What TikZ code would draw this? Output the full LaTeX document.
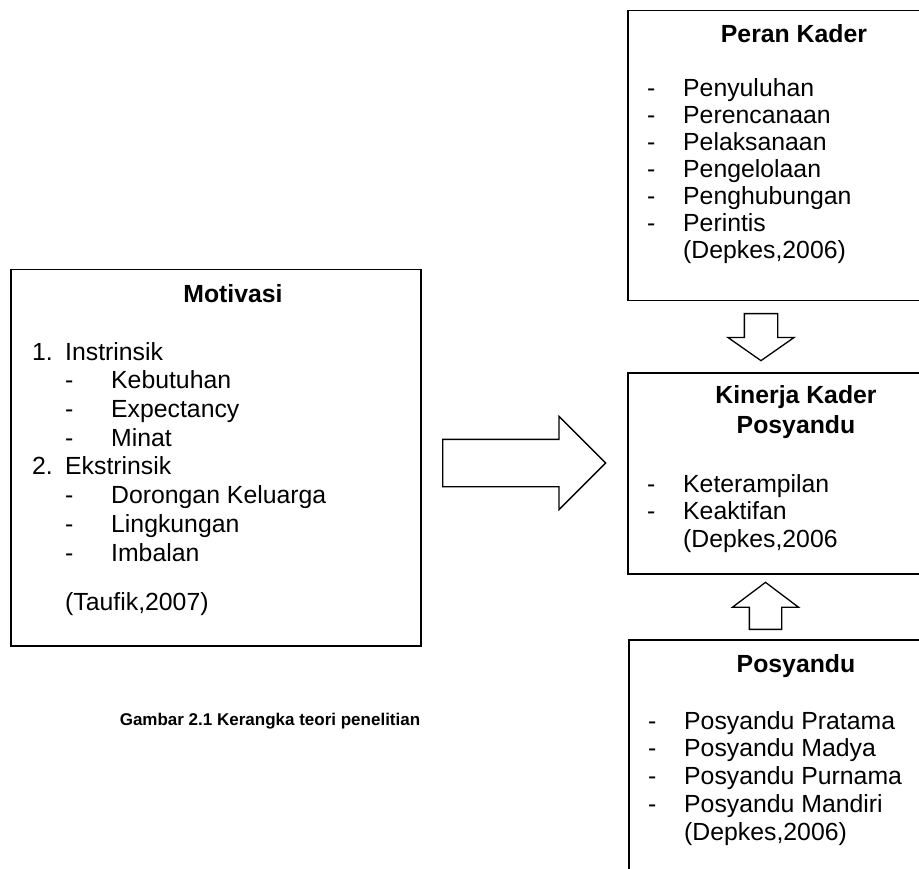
\documentclass[tikz,border=0pt]{standalone}
\usepackage{fontspec}
\setmainfont{Liberation Sans}
\usetikzlibrary{shapes,arrows,positioning}

\begin{document}
\begin{tikzpicture}[
    x=1pt, y=-1pt,
    every node/.style={font=\fontsize{24.8}{28}\selectfont, inner sep=0pt},
    box/.style={draw, line width=1.5pt, anchor=north west},
    title/.style={font=\fontsize{24.8}{28}\selectfont\bfseries, anchor=base},
    item/.style={anchor=base west},
    blockarrow/.style={draw, line width=1.3pt, single arrow, inner xsep=0pt, anchor=tail}
]
\useasboundingbox (0,0) rectangle (919,869);
\clip (0,0) rectangle (919,869);

% boxes
\node[box, minimum width=410pt, minimum height=376pt] (motivasi) at (10,269) {};
\node[box, minimum width=310pt, minimum height=290pt] (peran) at (627,10) {};
\node[box, minimum width=310pt, minimum height=201pt] (kinerja) at (627,372) {};
\node[box, minimum width=310pt, minimum height=260pt] (posyandu) at (628,639) {};

% Motivasi
\node[title] (motivasi-title) at (233,303) {Motivasi};
\node[item] (intrinsik) at (32,360) {\makebox[33pt][l]{1.}Instrinsik};
\foreach \y/\txt in {388/Kebutuhan, 417/Expectancy, 446/Minat}
    \node[item] (intrinsik-\y) at (65,\y) {\makebox[46pt][l]{-}\txt};
\node[item] (ekstrinsik) at (32,474) {\makebox[33pt][l]{2.}Ekstrinsik};
\foreach \y/\txt in {503/Dorongan Keluarga, 532/Lingkungan, 561/Imbalan}
    \node[item] (ekstrinsik-\y) at (65,\y) {\makebox[46pt][l]{-}\txt};
\node[item] (taufik) at (65,610) {(Taufik,2007)};

% Peran Kader
\node[title] (peran-title) at (794,43) {Peran Kader};
\foreach \txt [count=\i from 0] in {Penyuluhan, Perencanaan, Pelaksanaan, Pengelolaan, Penghubungan, Perintis}
    \node[item] (peran-\i) at (647,97+27*\i) {\makebox[36pt][l]{-}\txt};
\node[item] (peran-src) at (683,259) {(Depkes,2006)};

% Kinerja Kader Posyandu
\node[title] (kinerja-title1) at (796,403) {Kinerja Kader};
\node[title] (kinerja-title2) at (796,433) {Posyandu};
\node[item] (kinerja-1) at (647,492) {\makebox[36pt][l]{-}Keterampilan};
\node[item] (kinerja-2) at (647,519) {\makebox[36pt][l]{-}Keaktifan};
\node[item] (kinerja-src) at (683,547) {(Depkes,2006};

% Posyandu
\node[title] (posyandu-title) at (796,672) {Posyandu};
\foreach \txt [count=\i from 0] in {Posyandu Pratama, Posyandu Madya, Posyandu Purnama, Posyandu Mandiri}
    \node[item] (posyandu-\i) at (648,729+27.8*\i) {\makebox[36pt][l]{-}\txt};
\node[item] (posyandu-src) at (684,840) {(Depkes,2006)};

% block arrows
\node[blockarrow, minimum height=163pt, inner ysep=23pt, single arrow head extend=23pt,
      single arrow tip angle=90] (arrow-motivasi) at (442,463) {};
\node[blockarrow, rotate=-90, minimum height=47pt, inner ysep=16pt, single arrow head extend=16.5pt,
      single arrow tip angle=110] (arrow-peran) at (761,313) {};
\node[blockarrow, rotate=90, minimum height=47pt, inner ysep=15.5pt, single arrow head extend=17pt,
      single arrow tip angle=106] (arrow-posyandu) at (765.5,630) {};

% caption
\node[title, font=\fontsize{17}{20}\selectfont\bfseries] (caption) at (270,725) {Gambar 2.1 Kerangka teori penelitian};
\end{tikzpicture}
\end{document}
